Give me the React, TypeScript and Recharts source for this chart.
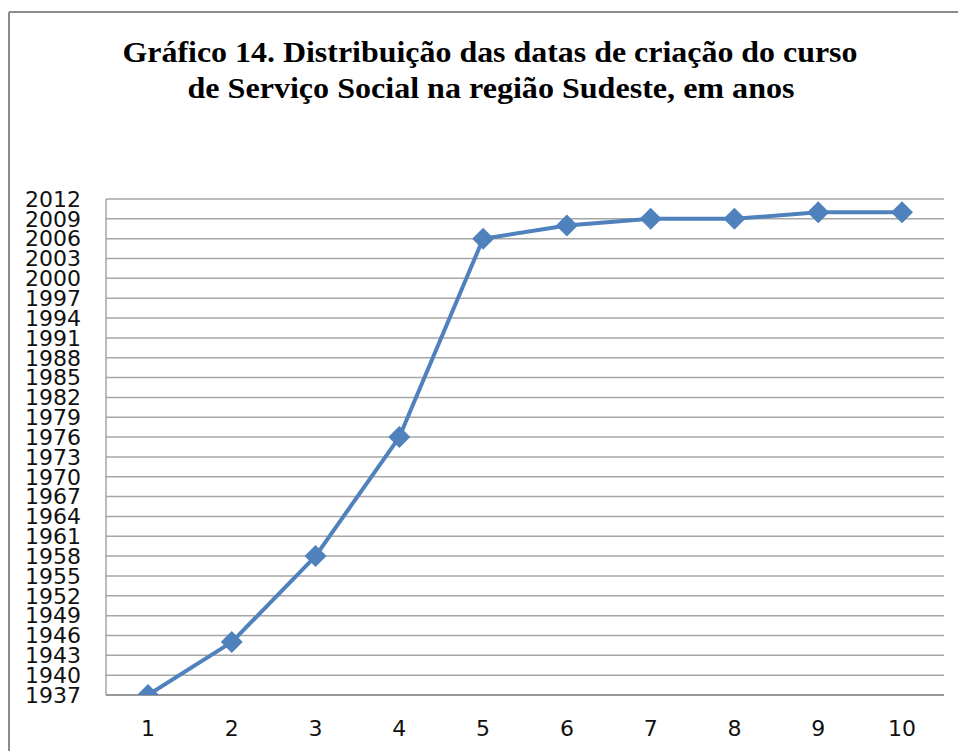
import React from 'react';
import { LineChart, Line, XAxis, YAxis, CartesianGrid } from 'recharts';

const categories = ['1', '2', '3', '4', '5', '6', '7', '8', '9', '10'];
const years = [1937, 1945, 1958, 1976, 2006, 2008, 2009, 2009, 2010, 2010];
const yTicks = [1937, 1940, 1943, 1946, 1949, 1952, 1955, 1958, 1961, 1964, 1967, 1970, 1973, 1976, 1979, 1982, 1985, 1988, 1991, 1994, 1997, 2000, 2003, 2006, 2009, 2012];
const titleLines = ['Gráfico 14. Distribuição das datas de criação do curso', 'de Serviço Social na região Sudeste, em anos'];

const data = categories.map((c, i) => ({ name: c, value: years[i] }));

const BLUE = '#4F81BD';

const Diamond = (props: any) => {
  const { cx, cy, index } = props;
  if (cx == null || cy == null) return null;
  const r = 11;
  return (
    <polygon
      key={`d-${index}`}
      points={`${cx},${cy - r} ${cx + r},${cy} ${cx},${cy + r} ${cx - r},${cy}`}
      fill={BLUE}
    />
  );
};

const tickFont = { fontFamily: 'DejaVu Sans', fontSize: 22, fill: '#111' };

export default function App() {
  return (
    <div style={{ position: 'absolute', left: 0, top: 0, width: 958, height: 751, background: '#fff' }}>
      <svg width={958} height={751} style={{ position: 'absolute', left: 0, top: 0 }}>
        <line x1={9} y1={12} x2={958} y2={12} stroke="#8c8c8c" strokeWidth={2} />
        <line x1={9} y1={12} x2={9} y2={751} stroke="#8c8c8c" strokeWidth={2} />
        <text x={490} y={62} textAnchor="middle" fontFamily="Liberation Serif" fontWeight="bold" fontSize={29} textLength={735} lengthAdjust="spacingAndGlyphs" fill="#000">
          {titleLines[0]}
        </text>
        <text x={491} y={98} textAnchor="middle" fontFamily="Liberation Serif" fontWeight="bold" fontSize={29} textLength={607} lengthAdjust="spacingAndGlyphs" fill="#000">
          {titleLines[1]}
        </text>
      </svg>
      <div style={{ position: 'absolute', left: 0, top: 0 }}>
        <LineChart width={958} height={751} data={data} margin={{ top: 199, right: 14, bottom: 16, left: 0 }}>
          <CartesianGrid vertical={false} stroke="#a6a6a6" strokeWidth={1.5} />
          <XAxis
            dataKey="name"
            tick={tickFont}
            tickLine={false}
            tickSize={0}
            tickMargin={25}
            axisLine={{ stroke: '#999', strokeWidth: 2 }}
            height={40}
            interval={0}
            padding={{ left: 42, right: 42 }}
          />
          <YAxis
            type="number"
            domain={[1937, 2012]}
            ticks={yTicks}
            interval={0}
            tick={tickFont}
            tickLine={false}
            tickSize={0}
            tickMargin={25}
            axisLine={{ stroke: '#a6a6a6', strokeWidth: 1.5 }}
            width={106}
            allowDataOverflow
          />
          <Line
            type="linear"
            dataKey="value"
            stroke={BLUE}
            strokeWidth={4}
            strokeLinejoin="round"
            dot={<Diamond />}
            activeDot={false}
            isAnimationActive={false}
          />
        </LineChart>
      </div>
    </div>
  );
}
